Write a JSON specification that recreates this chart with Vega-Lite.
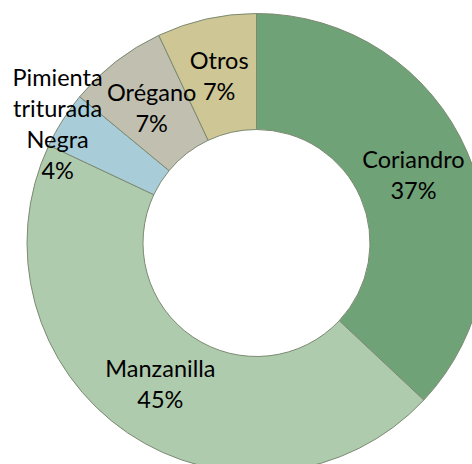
{
  "$schema": "https://vega.github.io/schema/vega-lite/v6.json",
  "width": 513,
  "height": 486,
  "autosize": {"type": "none"},
  "padding": 0,
  "background": "white",
  "view": {"stroke": null},
  "data": {
    "values": [
      {"cat": "Coriandro", "orden": 1, "pct": 37, "label": "Coriandro\n37%"},
      {"cat": "Manzanilla", "orden": 2, "pct": 45, "label": "Manzanilla\n45%"},
      {"cat": "Pimienta triturada Negra", "orden": 3, "pct": 4, "label": "Pimienta\ntriturada\nNegra\n4%"},
      {"cat": "Orégano", "orden": 4, "pct": 7, "label": "Orégano\n7%"},
      {"cat": "Otros", "orden": 5, "pct": 7, "label": "Otros\n7%"}
    ]
  },
  "encoding": {
    "theta": {"field": "pct", "type": "quantitative", "stack": true},
    "order": {"field": "orden", "type": "quantitative"}
  },
  "layer": [
    {
      "mark": {"type": "arc", "innerRadius": 113.5, "outerRadius": 229.5, "stroke": "#7c8a72", "strokeWidth": 1},
      "encoding": {
        "color": {
          "field": "cat",
          "type": "nominal",
          "legend": null,
          "scale": {
            "domain": ["Coriandro", "Manzanilla", "Pimienta triturada Negra", "Orégano", "Otros"],
            "range": ["#70a277", "#afcbae", "#a8cdd8", "#c0bfb0", "#cec695"]
          }
        }
      }
    },
    {
      "mark": {"type": "text", "radius": 171, "dy": -14, "font": "Lato", "fontSize": 23.5, "lineBreak": "\n", "lineHeight": 31, "color": "#000000", "baseline": "middle", "align": "center"},
      "encoding": {
        "text": {"condition": {"test": "datum.cat !== 'Pimienta triturada Negra'", "field": "label"}, "value": ""}
      }
    },
    {
      "mark": {"type": "text", "radius": 232, "dy": -40, "dx": -3, "font": "Lato", "fontSize": 23.5, "lineBreak": "\n", "lineHeight": 31, "color": "#000000", "baseline": "middle", "align": "center"},
      "encoding": {
        "text": {"condition": {"test": "datum.cat === 'Pimienta triturada Negra'", "field": "label"}, "value": ""}
      }
    }
  ]
}
